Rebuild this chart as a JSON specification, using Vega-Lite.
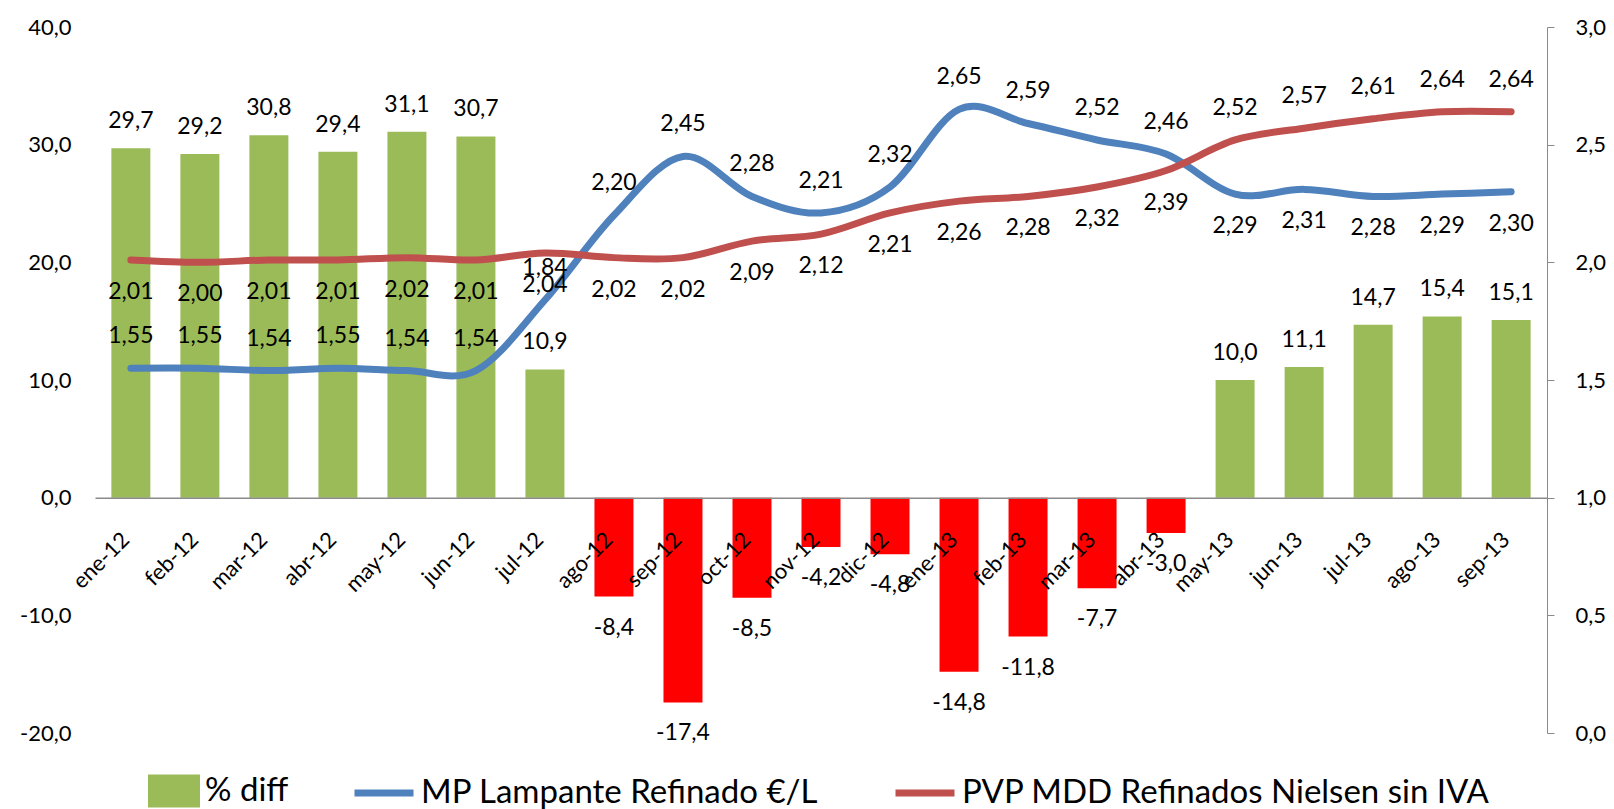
{
  "$schema": "https://vega.github.io/schema/vega-lite/v6.json",
  "width": 1452,
  "height": 706,
  "autosize": {"type": "none"},
  "padding": {"left": 95, "top": 27, "right": 67, "bottom": 76},
  "background": "white",
  "config": {
    "locale": {"number": {"decimal": ",", "thousands": ".", "grouping": [3], "currency": ["", " €"], "minus": "-"}},
    "font": "Lato",
    "view": {"stroke": null},
    "axis": {"grid": false, "labelFont": "Lato", "labelFontSize": 22, "labelColor": "#000000", "zindex": 1},
    "legend": {"labelFont": "Lato", "labelFontSize": 33, "labelColor": "#000000", "labelLimit": 0}
  },
  "data": {
    "values": [
      {"month": "ene-12", "diff": 29.7, "mp": 1.55, "pvp": 2.01},
      {"month": "feb-12", "diff": 29.2, "mp": 1.55, "pvp": 2.00},
      {"month": "mar-12", "diff": 30.8, "mp": 1.54, "pvp": 2.01},
      {"month": "abr-12", "diff": 29.4, "mp": 1.55, "pvp": 2.01},
      {"month": "may-12", "diff": 31.1, "mp": 1.54, "pvp": 2.02},
      {"month": "jun-12", "diff": 30.7, "mp": 1.54, "pvp": 2.01},
      {"month": "jul-12", "diff": 10.9, "mp": 1.84, "pvp": 2.04},
      {"month": "ago-12", "diff": -8.4, "mp": 2.20, "pvp": 2.02},
      {"month": "sep-12", "diff": -17.4, "mp": 2.45, "pvp": 2.02},
      {"month": "oct-12", "diff": -8.5, "mp": 2.28, "pvp": 2.09},
      {"month": "nov-12", "diff": -4.2, "mp": 2.21, "pvp": 2.12},
      {"month": "dic-12", "diff": -4.8, "mp": 2.32, "pvp": 2.21},
      {"month": "ene-13", "diff": -14.8, "mp": 2.65, "pvp": 2.26},
      {"month": "feb-13", "diff": -11.8, "mp": 2.59, "pvp": 2.28},
      {"month": "mar-13", "diff": -7.7, "mp": 2.52, "pvp": 2.32},
      {"month": "abr-13", "diff": -3.0, "mp": 2.46, "pvp": 2.39},
      {"month": "may-13", "diff": 10.0, "mp": 2.29, "pvp": 2.52},
      {"month": "jun-13", "diff": 11.1, "mp": 2.31, "pvp": 2.57},
      {"month": "jul-13", "diff": 14.7, "mp": 2.28, "pvp": 2.61},
      {"month": "ago-13", "diff": 15.4, "mp": 2.29, "pvp": 2.64},
      {"month": "sep-13", "diff": 15.1, "mp": 2.30, "pvp": 2.64}
    ]
  },
  "resolve": {"scale": {"y": "independent"}},
  "layer": [
    {
      "layer": [
        {
          "mark": {"type": "bar"},
          "encoding": {
            "x": {
              "field": "month", "type": "nominal", "sort": null,
              "scale": {"paddingInner": 0.435, "paddingOuter": 0.237},
              "axis": {
                "title": null, "labelAngle": -45, "labelAlign": "right", "labelBaseline": "middle",
                "ticks": false, "domainColor": "#8a8a8a", "domainWidth": 1.5,
                "offset": -235.33, "labelPadding": 38, "labelOffset": -5, "labelFontSize": 22, "zindex": 1
              }
            },
            "y": {
              "field": "diff", "type": "quantitative",
              "scale": {"domain": [-20, 40], "nice": false, "zero": false},
              "axis": {
                "title": null, "orient": "left", "values": [-20, -10, 0, 10, 20, 30, 40],
                "format": ".1f", "domain": false, "ticks": false, "labelPadding": 24
              }
            },
            "fill": {
              "condition": {"test": "datum.diff < 0", "value": "#ff0000"},
              "datum": "% diff", "type": "nominal",
              "scale": {"range": ["#9bbb59"]},
              "legend": {
                "title": null, "orient": "none", "legendX": 52, "legendY": 737,
                "symbolType": "M-1,-0.63H1V0.63H-1Z", "symbolSize": 2704,
                "labelOffset": 4, "labelFontSize": 33, "labelLimit": 0
              }
            }
          }
        },
        {
          "transform": [{"filter": "datum.diff >= 0"}],
          "mark": {"type": "text", "dy": -27, "fontSize": 23, "font": "Lato", "color": "#000000"},
          "encoding": {
            "x": {"field": "month", "type": "nominal", "sort": null},
            "y": {"field": "diff", "type": "quantitative"},
            "text": {"field": "diff", "type": "quantitative", "format": ".1f"}
          }
        },
        {
          "transform": [{"filter": "datum.diff < 0"}],
          "mark": {"type": "text", "dy": 31, "fontSize": 23, "font": "Lato", "color": "#000000"},
          "encoding": {
            "x": {"field": "month", "type": "nominal", "sort": null},
            "y": {"field": "diff", "type": "quantitative"},
            "text": {"field": "diff", "type": "quantitative", "format": ".1f"}
          }
        }
      ]
    },
    {
      "transform": [{"fold": ["mp", "pvp"], "as": ["serie", "value"]}],
      "layer": [
        {
          "mark": {"type": "line", "interpolate": "cardinal", "strokeWidth": 7, "strokeCap": "round"},
          "encoding": {
            "x": {"field": "month", "type": "nominal", "sort": null},
            "y": {
              "field": "value", "type": "quantitative",
              "scale": {"domain": [0, 3], "nice": false, "zero": false},
              "axis": {
                "title": null, "orient": "right", "values": [0, 0.5, 1, 1.5, 2, 2.5, 3],
                "format": ".1f", "domainColor": "#8a8a8a", "tickColor": "#8a8a8a",
                "tickSize": 7, "labelPadding": 21
              }
            },
            "stroke": {
              "field": "serie", "type": "nominal",
              "scale": {"domain": ["mp", "pvp"], "range": ["#4f81bd", "#c0504d"]},
              "legend": {
                "title": null, "orient": "none", "direction": "horizontal",
                "legendX": 256, "legendY": 733,
                "symbolType": "stroke", "symbolSize": 3481, "symbolStrokeWidth": 7,
                "labelOffset": 4, "columnPadding": 62, "labelFontSize": 33, "labelLimit": 0,
                "labelExpr": "datum.value === 'mp' ? 'MP Lampante Refinado €/L' : 'PVP MDD Refinados Nielsen sin IVA'"
              }
            }
          }
        },
        {
          "transform": [{"filter": "(datum.serie === 'mp') !== (datum.pvp > datum.mp && datum.mp > 2)"}],
          "mark": {"type": "text", "dy": -32, "fontSize": 23, "font": "Lato", "color": "#000000"},
          "encoding": {
            "x": {"field": "month", "type": "nominal", "sort": null},
            "y": {"field": "value", "type": "quantitative"},
            "text": {"field": "value", "type": "quantitative", "format": ".2f"}
          }
        },
        {
          "transform": [{"filter": "(datum.serie === 'mp') === (datum.pvp > datum.mp && datum.mp > 2)"}],
          "mark": {"type": "text", "dy": 32, "fontSize": 23, "font": "Lato", "color": "#000000"},
          "encoding": {
            "x": {"field": "month", "type": "nominal", "sort": null},
            "y": {"field": "value", "type": "quantitative"},
            "text": {"field": "value", "type": "quantitative", "format": ".2f"}
          }
        }
      ]
    }
  ]
}
